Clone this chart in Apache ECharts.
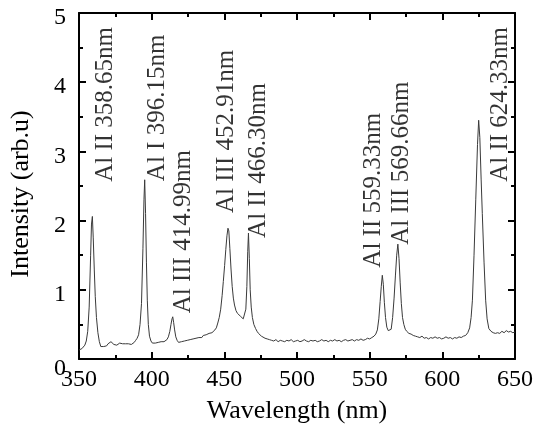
<!DOCTYPE html>
<html>
<head>
<meta charset="utf-8">
<script src="https://cdn.jsdelivr.net/npm/echarts@6/dist/echarts.min.js"></script>
<style>html,body{margin:0;padding:0;background:#fff}#c{width:536px;height:429px}</style>
</head>
<body>
<div id="c"></div>
<script>
// ---- data ----
const wavelength = [
350,351,352,353,354,355,356,357,358,358.6,359.2,359.8,360.5,361.2,362,363,364,365,366,367,368,369,370,
371,372,373,374,375,376,377,378,379,380,381,382,383,384,385,386,387,388,389,390,391,392,393,394,394.7,
395.2,395.8,396.4,397,397.7,398.5,399.5,400.5,401.5,402.5,403.5,404.5,405.5,406.5,407.5,408.5,409.5,
410.5,411.5,412.5,413.3,414,414.5,415.1,415.8,416.6,417.5,418.5,419.5,420.5,421.5,422.5,423.5,424.5,
425.5,426.5,427.5,428.5,429.5,430.5,431.5,432.5,433.5,434.5,435.5,436.5,437.5,438.5,439.5,440.5,441.5,
442.5,443.5,444.5,445.5,446.5,447.5,448.5,449.3,450.2,451,451.8,452.5,453.1,453.8,454.6,455.4,456.2,
457,458,459,460,461,462,463,464,464.8,465.5,466.1,466.6,467.2,467.8,468.5,469.3,470.3,471.5,472.5,
473.5,474.5,475.5,476.5,478,479.5,481,482.5,484,485.5,487,488.5,490,491.5,493,494.5,496,497.5,499,
500.5,502,503.5,505,506.5,508,509.5,511,512.5,514,515.5,517,518.5,520,521.5,523,524.5,526,527.5,529,
530.5,532,533.5,535,536.5,538,539.5,541,542.5,544,545.5,547,548.5,550,551.5,553,554.2,555.3,556.3,
557.2,558,558.7,559.4,560.1,560.9,561.8,562.8,563.8,564.8,565.8,566.8,567.7,568.6,569.4,570.2,571,
571.8,572.6,573.5,574.5,575.5,577,578.5,580,581.5,583,584.5,586,587.5,589,590.5,592,593.5,595,596.5,
598,599.5,601,602.5,604,605.5,607,608.5,610,611.5,613,614.5,616,617.5,618.8,619.8,620.7,621.8,623,
624.2,625,625.8,626.7,627.5,628.7,629.8,630.8,632,633.5,635,636.5,638,639.5,641,642.5,644,645.5,647,
648.5,650
];
const intensity = [
0.13,0.14,0.15,0.17,0.2,0.26,0.4,0.75,1.5,1.95,2.06,1.75,1.3,0.9,0.6,0.38,0.25,0.18,0.17,0.18,0.2,0.19,0.22,
0.24,0.25,0.23,0.21,0.22,0.2,0.22,0.23,0.21,0.22,0.24,0.22,0.21,0.22,0.2,0.21,0.22,0.24,0.27,0.3,0.35,0.5,0.8,1.6,2.3,
2.59,2.1,1.4,0.85,0.5,0.33,0.26,0.23,0.22,0.23,0.22,0.24,0.23,0.25,0.26,0.25,0.27,
0.28,0.32,0.4,0.5,0.58,0.61,0.53,0.42,0.32,0.27,0.24,0.23,0.25,0.24,0.26,0.25,0.27,
0.26,0.28,0.27,0.29,0.28,0.3,0.29,0.31,0.32,0.31,0.34,0.33,0.35,0.34,0.37,0.36,0.38,
0.4,0.42,0.45,0.52,0.6,0.72,0.92,1.12,1.35,1.58,1.78,1.89,1.85,1.6,1.3,1.05,0.88,
0.78,0.7,0.66,0.64,0.62,0.6,0.58,0.6,0.72,1.05,1.55,1.82,1.45,1.0,0.75,0.6,0.5,0.44,0.4,
0.37,0.35,0.33,0.32,0.3,0.29,0.28,0.27,0.26,0.28,0.25,0.27,0.26,0.25,0.27,0.26,0.28,0.25,0.26,
0.27,0.25,0.26,0.28,0.26,0.25,0.27,0.26,0.27,0.25,0.26,0.28,0.26,0.27,0.25,0.27,0.26,0.28,0.26,0.27,
0.25,0.27,0.28,0.26,0.27,0.28,0.26,0.28,0.27,0.29,0.27,0.28,0.3,0.29,0.31,0.33,0.36,0.42,0.58,
0.83,1.05,1.21,1.08,0.82,0.6,0.46,0.41,0.39,0.43,0.6,0.88,1.2,1.5,1.66,1.45,1.1,
0.8,0.6,0.5,0.43,0.4,0.37,0.36,0.34,0.33,0.32,0.31,0.33,0.3,0.31,0.29,0.31,0.3,0.32,0.3,
0.31,0.29,0.3,0.32,0.3,0.31,0.29,0.31,0.3,0.32,0.31,0.33,0.34,0.38,0.45,0.6,0.85,1.5,2.3,
3.1,3.45,3.2,2.6,2.1,1.4,0.85,0.58,0.44,0.4,0.38,0.37,0.38,0.37,0.4,0.38,0.41,0.39,0.4,
0.38,0.39
];
const xTicks = [350, 650, 50];   // min, max, step
const yTicks = [0, 5, 1];
const peakLabels = [
  'Al II 358.65nm','Al I 396.15nm','Al III 414.99nm','Al III 452.91nm',
  'Al II 466.30nm','Al II 559.33nm','Al III 569.66nm','Al II 624.33nm'
];
// label anchor (bottom of rotated text) in data units
const labelAnchors = [
  [368.4,2.56],[403.9,2.57],[421.6,0.66],[451.6,2.11],
  [473.4,1.75],[552.5,1.32],[571.6,1.65],[639.8,2.56]
];

const FONT = "'Liberation Serif','Times New Roman',serif";
const chart = echarts.init(document.getElementById('c'), null, {renderer:'canvas'});
const spectrum = wavelength.map((w,i)=>[w,intensity[i]]);
const annot = labelAnchors.map((a,i)=>({value:a, name:peakLabels[i]}));

const axisCommon = {
  axisLine:{show:true,onZero:false,lineStyle:{color:'#000',width:2}},
  axisTick:{show:true,inside:true,length:7,lineStyle:{color:'#000',width:2}},
  minorTick:{show:true,splitNumber:2,length:4,lineStyle:{color:'#000',width:2}},
  splitLine:{show:false}, minorSplitLine:{show:false}
};

chart.setOption({
  animation:false,
  backgroundColor:'#fff',
  grid:{left:78,right:18,top:13,bottom:70,containLabel:false},
  xAxis:[
    Object.assign({type:'value',min:xTicks[0],max:xTicks[1],interval:xTicks[2],position:'bottom',
      name:'Wavelength (nm)',nameLocation:'middle',nameGap:39,
      nameTextStyle:{fontFamily:FONT,fontSize:26,color:'#000'},
      axisLabel:{fontFamily:FONT,fontSize:24,color:'#000',margin:9}},axisCommon),
    Object.assign({type:'value',min:xTicks[0],max:xTicks[1],interval:xTicks[2],position:'top',
      axisLabel:{show:false}},axisCommon)
  ],
  yAxis:[
    Object.assign({type:'value',min:yTicks[0],max:yTicks[1],interval:yTicks[2],position:'left',
      name:'Intensity (arb.u)',nameLocation:'middle',nameGap:45,nameRotate:90,
      nameTextStyle:{fontFamily:FONT,fontSize:26,color:'#000',padding:[0,16,0,0]},
      axisLabel:{fontFamily:FONT,fontSize:24,color:'#000',margin:13,
        formatter:v=> v===0 ? '{z|0}' : '{a|'+v+'}',
        rich:{a:{fontFamily:FONT,fontSize:24,color:'#000',padding:[10,0,0,0]},
              z:{fontFamily:FONT,fontSize:24,color:'#000',padding:[20,0,0,0]}}}},axisCommon),
    Object.assign({type:'value',min:yTicks[0],max:yTicks[1],interval:yTicks[2],position:'right',
      axisLabel:{show:false}},axisCommon)
  ],
  series:[
    {type:'line',data:spectrum,showSymbol:false,symbol:'none',
     lineStyle:{color:'#3a3a3a',width:1},silent:true,z:3},
    {type:'scatter',data:annot,symbolSize:1,itemStyle:{color:'rgba(0,0,0,0)'},silent:true,z:4,
     label:{show:true,formatter:p=>p.name,rotate:90,position:'inside',align:'left',verticalAlign:'middle',
       fontFamily:FONT,fontSize:25,color:'#000'}}
  ]
});
</script>
</body>
</html>
